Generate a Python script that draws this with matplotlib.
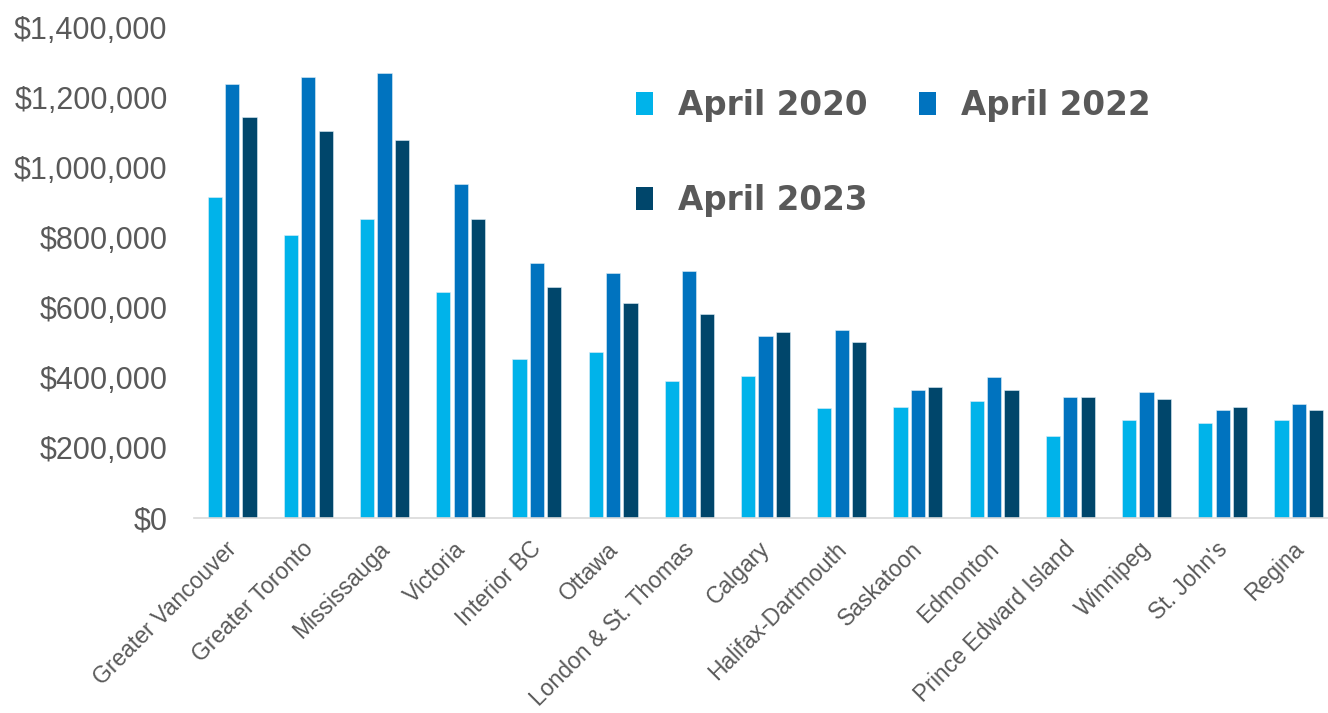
import matplotlib
matplotlib.use("Agg")
import matplotlib.pyplot as plt
from matplotlib.ticker import FuncFormatter, MultipleLocator
from matplotlib.patches import Patch
from matplotlib.transforms import ScaledTranslation
import numpy as np

categories = ["Greater Vancouver", "Greater Toronto", "Mississauga", "Victoria",
              "Interior BC", "Ottawa", "London & St. Thomas", "Calgary",
              "Halifax-Dartmouth", "Saskatoon", "Edmonton", "Prince Edward Island",
              "Winnipeg", "St. John's", "Regina"]
april_2020 = [916000, 807000, 853000, 645000, 454000, 473000, 390000, 406000,
              313000, 316000, 334000, 233000, 279000, 271000, 280000]
april_2022 = [1238000, 1258000, 1270000, 953000, 727000, 700000, 705000, 520000,
              536000, 366000, 401000, 346000, 359000, 307000, 324000]
april_2023 = [1144000, 1104000, 1078000, 853000, 660000, 612000, 583000, 530000,
              502000, 373000, 366000, 346000, 338000, 316000, 307000]
series_labels = ["April 2020", "April 2022", "April 2023"]
colors = ["#00B3EA", "#0073BF", "#00466B"]
text_color = "#595959"

W, H = 1328, 713
fig = plt.figure(figsize=(W / 100, H / 100), dpi=100)
fig.patch.set_facecolor("white")
left_px, right_px = 194, 1337
bottom_px, top_px = 518, 27
ax = fig.add_axes([left_px / W, (H - bottom_px) / H, (right_px - left_px) / W,
                   (bottom_px - top_px) / H])

x = np.arange(len(categories))
width = 0.185
offset = 0.228
for i, (vals, c, lab) in enumerate(zip([april_2020, april_2022, april_2023], colors, series_labels)):
    ax.bar(x + (i - 1) * offset, vals, width=width, color=c, label=lab,
           edgecolor="#dfeef7", linewidth=0.4, zorder=2)

ax.set_xlim(-0.5, len(categories) - 0.5)
ax.set_ylim(0, 1400000)
ax.yaxis.set_major_locator(MultipleLocator(200000))
ax.yaxis.set_major_formatter(FuncFormatter(lambda v, p: "${:,.0f}".format(v)))

for s in ["top", "right", "left"]:
    ax.spines[s].set_visible(False)
ax.spines["bottom"].set_color("#D9D9D9")
ax.spines["bottom"].set_linewidth(1.2)

ax.tick_params(axis="y", length=0, pad=19, labelsize=22, labelcolor=text_color)
ax.tick_params(axis="x", length=0, pad=14, labelsize=16.5, labelcolor=text_color)
for t in ax.get_yticklabels():
    t.set_fontfamily("Liberation Sans")

ax.set_xticks(x)
ax.set_xticklabels(categories, rotation=45, ha="right", va="top",
                   rotation_mode="anchor", fontfamily="Liberation Sans")
shift = ScaledTranslation(-0.07, 0, fig.dpi_scale_trans)
for t in ax.get_xticklabels():
    t.set_transform(t.get_transform() + shift)

handles = [Patch(facecolor=c, edgecolor="none") for c in colors]
order = [0, 2, 1]
leg = fig.legend([handles[i] for i in order], [series_labels[i] for i in order],
                 loc="upper left", bbox_to_anchor=(636 / W, 1 - 89 / H),
                 ncol=2, frameon=False, borderpad=0, borderaxespad=0,
                 prop={"family": "DejaVu Sans", "weight": "bold", "size": 23.5},
                 handlelength=0.52, handleheight=0.72, handletextpad=0.78,
                 columnspacing=1.55, labelspacing=1.9)
for t in leg.get_texts():
    t.set_color(text_color)

fig.savefig("out.png", dpi=100, facecolor="white")
